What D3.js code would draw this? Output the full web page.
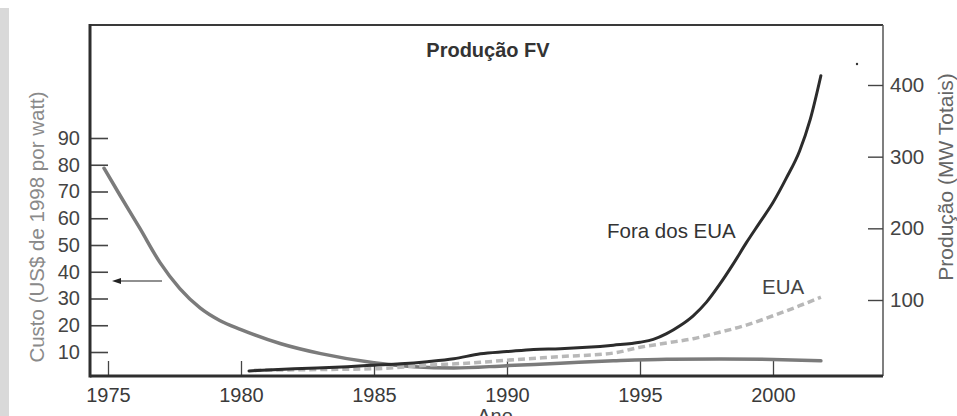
<!DOCTYPE html>
<html><head><meta charset="utf-8">
<script src="https://cdn.jsdelivr.net/npm/d3@7"></script>
<style>
html,body{margin:0;padding:0;background:#fff;}
svg{display:block;font-family:"Liberation Sans",Arial,sans-serif;}
</style></head>
<body>
<svg id="c" width="957" height="416"></svg>
<script>
// ---- data ----
const xTicks = [1975, 1980, 1985, 1990, 1995, 2000];
const costTicks = [10, 20, 30, 40, 50, 60, 70, 80, 90];
const prodTicks = [100, 200, 300, 400];

const costYears  = [1974.85, 1975.45, 1976.2, 1976.95, 1977.7, 1978.46, 1979.2, 1980, 1981.5, 1983, 1985, 1986.5, 1988, 1990, 1992, 1994, 1996, 1998, 2000, 2001.8];
const costValues = [78.7, 68.6, 56.2, 43.5, 33.7, 26.5, 21.8, 18.4, 13.1, 9.4, 6.0, 4.5, 4.0, 4.9, 5.8, 6.7, 7.3, 7.4, 7.2, 6.7];

const foraYears  = [1980.3, 1982, 1984, 1985, 1986, 1987, 1988, 1989, 1990, 1991, 1992, 1993, 1994, 1995, 1995.5, 1996, 1996.5, 1997, 1997.5, 1998, 1998.5, 1999, 1999.5, 2000, 2000.5, 2001, 2001.4, 2001.8];
const foraValues = [1, 4, 7, 9, 11, 14, 18, 25, 28, 31, 32, 34, 37, 41, 45, 53, 64, 78, 97, 122, 150, 180, 208, 236, 270, 308, 352, 413];

const euaYears  = [1980.5, 1983, 1985, 1987, 1989, 1990, 1992, 1994, 1995, 1996, 1997, 1998, 1999, 2000, 2001, 2001.8];
const euaValues = [2, 3, 4, 9, 13, 16, 21, 26, 34, 40, 46, 55, 65, 78, 92, 104];

// ---- layout ----
const svg = d3.select("#c");
const L = 90, R = 883, T = 25, B = 376;

const x = d3.scaleLinear().domain([1975, 2000]).range([108, 773]);
const yL = d3.scaleLinear().domain([10, 90]).range([352, 138]);
const yR = d3.scaleLinear().domain([100, 400]).range([300, 85]);

// scan edge
svg.append("rect").attr("x", 0).attr("y", 8).attr("width", 9).attr("height", 408).attr("fill", "#d9d9d9");

// frame top & right
svg.append("line").attr("x1", L).attr("x2", R).attr("y1", T).attr("y2", T)
  .attr("stroke", "#3a3a3a").attr("stroke-width", 1.8);
svg.append("line").attr("x1", R).attr("x2", R).attr("y1", T).attr("y2", B)
  .attr("stroke", "#555").attr("stroke-width", 1.5);

// bottom axis
const gx = svg.append("g").attr("transform", `translate(0,${B})`)
  .call(d3.axisBottom(x).tickValues(xTicks).tickFormat(d3.format("d")).tickSizeInner(-15).tickSizeOuter(0).tickPadding(10));
gx.select(".domain").remove();
gx.selectAll(".tick line").attr("stroke", "#444").attr("stroke-width", 1.3);
gx.selectAll(".tick text").attr("font-size", 20).attr("fill", "#3a3a3a").attr("dy", "0.8em")
  .attr("font-family", "Liberation Sans, Arial, sans-serif");

// left axis
const gl = svg.append("g").attr("transform", `translate(${L},0)`)
  .call(d3.axisLeft(yL).tickValues(costTicks).tickSizeInner(-18).tickSizeOuter(0).tickPadding(10));
gl.select(".domain").remove();
gl.selectAll(".tick line").attr("stroke", "#444").attr("stroke-width", 1.6);
gl.selectAll(".tick text").attr("font-size", 20).attr("fill", "#444")
  .attr("font-family", "Liberation Sans, Arial, sans-serif");

// right axis
const gr = svg.append("g").attr("transform", `translate(${R},0)`)
  .call(d3.axisRight(yR).tickValues(prodTicks).tickSizeInner(-15).tickSizeOuter(0).tickPadding(7));
gr.select(".domain").remove();
gr.selectAll(".tick line").attr("stroke", "#444").attr("stroke-width", 1.4);
gr.selectAll(".tick text").attr("font-size", 20.5).attr("fill", "#444")
  .attr("font-family", "Liberation Sans, Arial, sans-serif");

// thick left and bottom axis lines
svg.append("line").attr("x1", L).attr("x2", L).attr("y1", T - 1).attr("y2", B + 1.5)
  .attr("stroke", "#2e2e2e").attr("stroke-width", 3);
svg.append("line").attr("x1", L).attr("x2", R).attr("y1", B).attr("y2", B)
  .attr("stroke", "#2e2e2e").attr("stroke-width", 3);

// lines
const mk = (ys, vs) => ys.map((d, i) => [d, vs[i]]);
const lineL = d3.line().x(d => x(d[0])).y(d => yL(d[1])).curve(d3.curveMonotoneX);
const lineR = d3.line().x(d => x(d[0])).y(d => yR(d[1])).curve(d3.curveMonotoneX);

svg.append("path").attr("d", lineL(mk(costYears, costValues)))
  .attr("fill", "none").attr("stroke", "#7b7b7b").attr("stroke-width", 3.5).attr("stroke-linecap", "round");
svg.append("path").attr("d", lineR(mk(euaYears, euaValues)))
  .attr("fill", "none").attr("stroke", "#b8b8b8").attr("stroke-width", 3.5).attr("stroke-dasharray", "7,4");
svg.append("path").attr("d", lineR(mk(foraYears, foraValues)))
  .attr("fill", "none").attr("stroke", "#2c2c2c").attr("stroke-width", 3).attr("stroke-linecap", "round");

// arrow
svg.append("line").attr("x1", 162).attr("x2", 116).attr("y1", 281).attr("y2", 281)
  .attr("stroke", "#222").attr("stroke-width", 1.2);
svg.append("path").attr("d", "M112,281 L121,278 L121,284 Z").attr("fill", "#222");

// small dot
svg.append("circle").attr("cx", 857).attr("cy", 64).attr("r", 1.2).attr("fill", "#333");

// texts
svg.append("text").attr("x", 488).attr("y", 57).attr("text-anchor", "middle")
  .attr("font-size", 20).attr("font-weight", "bold").attr("fill", "#333").text("Produção FV");
svg.append("text").attr("x", 607).attr("y", 238)
  .attr("font-size", 20.5).attr("fill", "#333").text("Fora dos EUA");
svg.append("text").attr("x", 762).attr("y", 294)
  .attr("font-size", 20.5).attr("fill", "#444").text("EUA");
svg.append("text").attr("transform", "translate(44,227) rotate(-90)").attr("text-anchor", "middle")
  .attr("font-size", 20.5).attr("fill", "#8a8a8a").text("Custo (US$ de 1998 por watt)");
svg.append("text").attr("transform", "translate(953,177) rotate(-90)").attr("text-anchor", "middle")
  .attr("font-size", 21).attr("fill", "#666").text("Produção (MW Totais)");
svg.append("text").attr("x", 495).attr("y", 423).attr("text-anchor", "middle")
  .attr("font-size", 20).attr("fill", "#444").text("Ano");
</script>
</body></html>
